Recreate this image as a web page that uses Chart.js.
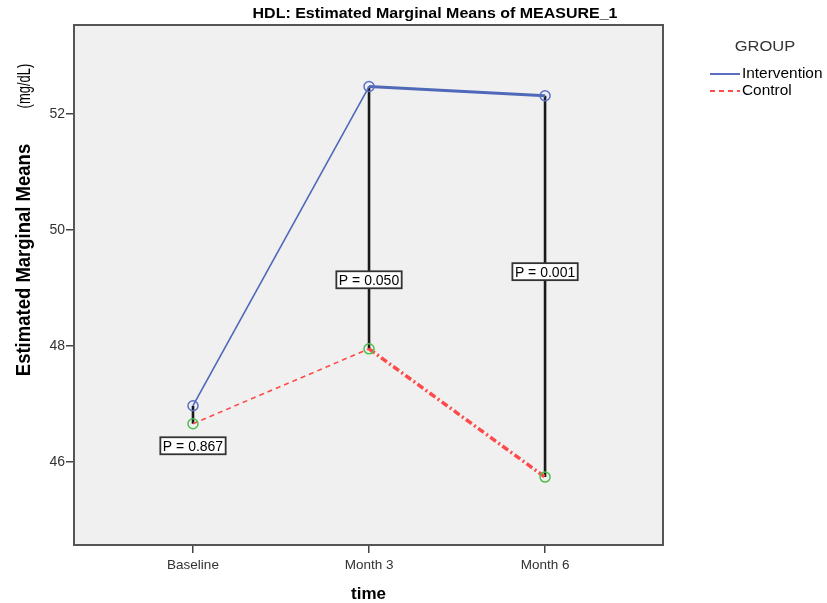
<!DOCTYPE html>
<html>
<head>
<meta charset="utf-8">
<script src="https://cdn.jsdelivr.net/npm/chart.js@4.4.1/dist/chart.umd.min.js"></script>
<style>
html,body{margin:0;padding:0;background:#fff;}
#wrap{width:827px;height:603px;position:relative;}
</style>
</head>
<body>
<div id="wrap"><canvas id="c" width="827" height="603"></canvas></div>
<script>
const categories = ["Baseline", "Month 3", "Month 6"];
const intervention = [46.97, 52.47, 52.31];
const control = [46.66, 47.95, 45.74];
const yTicks = [46, 48, 50, 52];
const pLabels = ["P = 0.867", "P = 0.050", "P = 0.001"];
const pLabelY = [46.28, 49.14, 49.28];

const FONT = "'Liberation Sans', Arial, sans-serif";

const pts = arr => arr.map((v, i) => ({x: i, y: v}));

const connectors = categories.map((c, i) => ({
  label: 'conn' + i,
  data: [{x: i, y: intervention[i]}, {x: i, y: control[i]}],
  borderColor: '#1a1a1a',
  borderWidth: 2.6,
  pointRadius: 0,
  pointHoverRadius: 0,
  order: 3
}));

function stretchText(ctx, text, x, y, sx) {
  ctx.save();
  ctx.translate(x, y);
  ctx.scale(sx, 1);
  ctx.fillText(text, 0, 0);
  ctx.restore();
}

const bgPlugin = {
  id: 'bg',
  beforeDraw(chart) {
    const {ctx, chartArea: a} = chart;
    ctx.save();
    ctx.fillStyle = '#f0f0f0';
    ctx.fillRect(a.left, a.top, a.right - a.left, a.bottom - a.top);
    ctx.restore();
  },
  afterDraw(chart) {
    const {ctx, chartArea: a, scales} = chart;
    ctx.save();
    // border
    ctx.strokeStyle = '#555';
    ctx.lineWidth = 2;
    ctx.strokeRect(a.left, a.top, a.right - a.left, a.bottom - a.top);
    // P labels
    ctx.font = '14px ' + FONT;
    ctx.textAlign = 'center';
    ctx.textBaseline = 'middle';
    pLabels.forEach((t, i) => {
      const x = scales.x.getPixelForValue(i);
      const y = scales.y.getPixelForValue(pLabelY[i]);
      const w = ctx.measureText(t).width + 5;
      const h = 17;
      ctx.fillStyle = '#fff';
      ctx.fillRect(x - w / 2, y - h / 2, w, h);
      ctx.strokeStyle = '#333';
      ctx.lineWidth = 1.8;
      ctx.strokeRect(x - w / 2, y - h / 2, w, h);
      ctx.fillStyle = '#000';
      ctx.fillText(t, x, y + 1);
    });
    // title
    ctx.font = 'bold 15px ' + FONT;
    ctx.fillStyle = '#000';
    stretchText(ctx, 'HDL: Estimated Marginal Means of MEASURE_1', 435, 14, 1.065);
    // x axis title
    ctx.font = 'bold 17px ' + FONT;
    ctx.fillText('time', (a.left + a.right) / 2, 594);
    // y axis title
    ctx.save();
    ctx.translate(25, 0);
    ctx.rotate(-Math.PI / 2);
    ctx.textAlign = 'center';
    ctx.save();
    ctx.translate(-260, 0);
    ctx.scale(1, 1.05);
    ctx.font = 'bold 18.5px ' + FONT;
    ctx.fillText('Estimated Marginal Means', 0, 0);
    ctx.restore();
    ctx.save();
    ctx.translate(-86, 0);
    ctx.scale(1, 1.45);
    ctx.font = '13px ' + FONT;
    ctx.fillText('(mg/dL)', 0, 0);
    ctx.restore();
    ctx.restore();
    // legend
    ctx.font = '14px ' + FONT;
    ctx.fillStyle = '#333';
    ctx.textAlign = 'center';
    stretchText(ctx, 'GROUP', 765, 47, 1.18);
    ctx.textAlign = 'left';
    ctx.font = '14px ' + FONT;
    ctx.fillStyle = '#000';
    ctx.strokeStyle = '#5a6fc0';
    ctx.lineWidth = 2;
    ctx.beginPath(); ctx.moveTo(710, 74); ctx.lineTo(740, 74); ctx.stroke();
    stretchText(ctx, 'Intervention', 742, 74, 1.1);
    ctx.strokeStyle = '#ff4d4d';
    ctx.setLineDash([5, 4]);
    ctx.beginPath(); ctx.moveTo(710, 91); ctx.lineTo(740, 91); ctx.stroke();
    ctx.setLineDash([]);
    stretchText(ctx, 'Control', 742, 91, 1.1);
    ctx.restore();
  }
};

new Chart(document.getElementById('c'), {
  type: 'line',
  data: {
    datasets: [
      ...connectors,
      {
        label: 'Intervention',
        data: pts(intervention),
        borderColor: '#5068b8',
        segment: {
          borderWidth: ctx => ctx.p0DataIndex === 1 ? 3 : 1.6
        },
        borderWidth: 1.6,
        pointStyle: 'circle',
        pointRadius: 5,
        pointBorderColor: '#5a6ec8',
        pointBackgroundColor: 'rgba(0,0,0,0)',
        pointBorderWidth: 1.5,
        order: 1
      },
      {
        label: 'Control',
        data: pts(control),
        borderColor: '#ff4a4a',
        segment: {
          borderWidth: ctx => ctx.p0DataIndex === 1 ? 3.5 : 1.6,
          borderDash: ctx => ctx.p0DataIndex === 1 ? [7, 3, 2, 3] : [5, 4]
        },
        borderWidth: 1.6,
        pointRadius: 5,
        pointBorderColor: '#4cc04c',
        pointBackgroundColor: 'rgba(0,0,0,0)',
        pointBorderWidth: 1.5,
        order: 2
      }
    ]
  },
  options: {
    responsive: false,
    animation: false,
    devicePixelRatio: 1,
    layout: {padding: {left: 0, top: 25, right: 164, bottom: 0}},
    plugins: {
      legend: {display: false},
      tooltip: {enabled: false},
      title: {display: false}
    },
    scales: {
      x: {
        type: 'linear',
        min: -0.676,
        max: 2.67,
        afterBuildTicks: s => { s.ticks = categories.map((c, i) => ({value: i})); },
        afterFit: s => { s.height = 58; },
        ticks: {
          callback: v => categories[v],
          color: '#333',
          font: {family: FONT, size: 13.5},
          padding: 4,
          maxRotation: 0,
          autoSkip: false
        },
        grid: {drawOnChartArea: false, drawTicks: true, tickLength: 8, color: '#444', lineWidth: 1.5},
        border: {display: true, color: '#555', width: 2}
      },
      y: {
        type: 'linear',
        min: 44.57,
        max: 53.53,
        afterBuildTicks: s => { s.ticks = yTicks.map(v => ({value: v})); },
        afterFit: s => { s.width = 74; },
        ticks: {
          color: '#333',
          font: {family: FONT, size: 14},
          padding: 1
        },
        grid: {drawOnChartArea: false, drawTicks: true, tickLength: 8, color: '#444', lineWidth: 1.5},
        border: {display: true, color: '#555', width: 2}
      }
    }
  },
  plugins: [bgPlugin]
});
</script>
</body>
</html>
